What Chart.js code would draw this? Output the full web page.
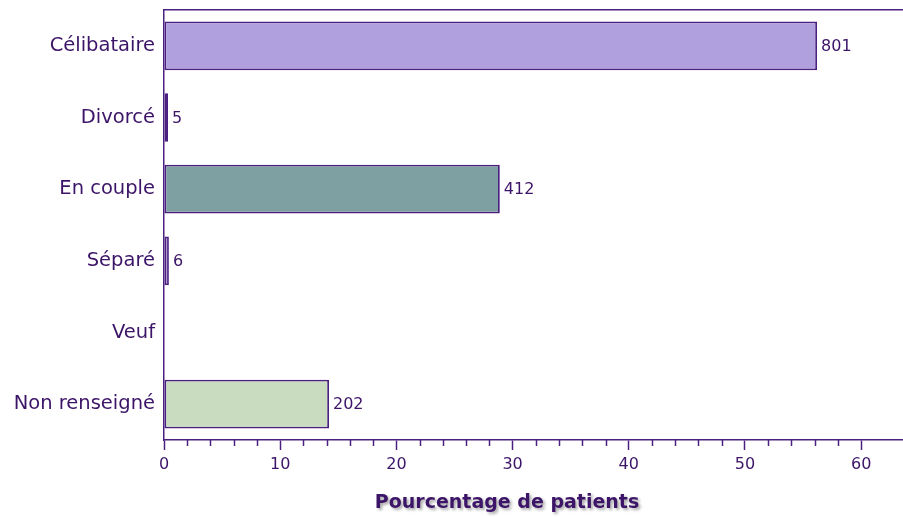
<!DOCTYPE html>
<html>
<head>
<meta charset="utf-8">
<script src="https://cdn.jsdelivr.net/npm/chart.js@4/dist/chart.umd.min.js"></script>
<style>
  html, body { margin: 0; padding: 0; background: #ffffff; }
  #wrap { width: 903px; height: 517px; }
</style>
</head>
<body>
<div id="wrap"><canvas id="c" width="903" height="517"></canvas></div>
<script>
const categories = ["Célibataire", "Divorcé", "En couple", "Séparé", "Veuf", "Non renseigné"];
const counts = [801, 5, 412, 6, 0, 202];
const percents = [56.2, 0.35, 28.9, 0.42, 0, 14.2];
const barColors = ["#b0a0de", "#8c9cc8", "#7fa0a3", "#a888cc", "#b0a0de", "#c9dcc0"];
const xTickLabels = [0, 10, 20, 30, 40, 50, 60];
const xTitle = "Pourcentage de patients";

const PURPLE = "#4b2080";
const TEXT = "#3c1468";
const XMAX = 63.6;

const extrasPlugin = {
  id: "extras",
  afterDraw(chart) {
    const ctx = chart.ctx;
    const xs = chart.scales.x;
    const base = xs.top;
    ctx.save();
    // minor ticks
    ctx.strokeStyle = PURPLE;
    ctx.lineWidth = 1.5;
    xs.ticks.forEach(t => {
      if (xTickLabels.indexOf(t.value) === -1) {
        const px = Math.round(xs.getPixelForValue(t.value)) + 0.5;
        ctx.beginPath();
        ctx.moveTo(px, base);
        ctx.lineTo(px, base + 6);
        ctx.stroke();
      }
    });
    // value labels
    const meta = chart.getDatasetMeta(0);
    ctx.font = "16px 'DejaVu Sans'";
    ctx.fillStyle = TEXT;
    ctx.textAlign = "left";
    ctx.textBaseline = "middle";
    meta.data.forEach((bar, i) => {
      if (counts[i] > 0) {
        ctx.fillText(String(counts[i]), bar.x + 4, bar.y + 1);
      }
    });
    // axis title with shadow
    ctx.font = "bold 19px 'DejaVu Sans'";
    ctx.textAlign = "center";
    ctx.textBaseline = "middle";
    ctx.shadowColor = "rgba(0,0,0,0.35)";
    ctx.shadowBlur = 3;
    ctx.shadowOffsetX = 2;
    ctx.shadowOffsetY = 2;
    ctx.fillStyle = TEXT;
    ctx.fillText(xTitle, 507, 503);
    ctx.restore();
  }
};

new Chart(document.getElementById("c"), {
  type: "bar",
  data: {
    labels: categories,
    datasets: [{
      data: percents,
      backgroundColor: barColors,
      borderColor: PURPLE,
      borderWidth: 1.8,
      borderSkipped: false,
      categoryPercentage: 1.0,
      barPercentage: 0.68
    }]
  },
  options: {
    indexAxis: "y",
    responsive: false,
    animation: false,
    events: [],
    layout: { padding: { top: 10, right: 0, left: 0, bottom: 0 } },
    plugins: {
      legend: { display: false },
      tooltip: { enabled: false }
    },
    scales: {
      x: {
        type: "linear",
        position: "bottom",
        min: 0,
        max: XMAX,
        afterFit(scale) { scale.height = 77; scale.paddingLeft = 0; scale.paddingRight = 0; },
        afterBuildTicks(scale) {
          scale.ticks = scale.ticks.filter(t => Math.abs(t.value / 2 - Math.round(t.value / 2)) < 1e-6);
        },
        ticks: {
          stepSize: 2,
          autoSkip: false,
          maxRotation: 0,
          padding: 5,
          color: TEXT,
          font: { family: "'DejaVu Sans'", size: 16 },
          callback(v) { return xTickLabels.indexOf(v) !== -1 ? String(v) : ""; }
        },
        grid: {
          display: true,
          drawOnChartArea: false,
          drawTicks: true,
          tickLength: 10,
          tickWidth: 1.5,
          tickColor(ctx) {
            return ctx.tick && xTickLabels.indexOf(ctx.tick.value) !== -1 ? PURPLE : "rgba(0,0,0,0)";
          }
        },
        border: { display: true, color: PURPLE, width: 1.5 }
      },
      x2: {
        type: "linear",
        position: "top",
        min: 0,
        max: XMAX,
        afterFit(scale) { scale.height = 0; scale.paddingLeft = 0; scale.paddingRight = 0; },
        ticks: { display: false },
        grid: { display: true, drawOnChartArea: false, drawTicks: false },
        border: { display: true, color: PURPLE, width: 1.5 }
      },
      y: {
        afterFit(scale) { scale.width = 164; scale.paddingTop = 0; scale.paddingBottom = 0; },
        ticks: {
          color: TEXT,
          padding: 9,
          font: { family: "'DejaVu Sans'", size: 19.5 }
        },
        grid: { display: false, drawTicks: false },
        border: { display: true, color: PURPLE, width: 1.5 }
      }
    }
  },
  plugins: [extrasPlugin]
});
</script>
</body>
</html>
